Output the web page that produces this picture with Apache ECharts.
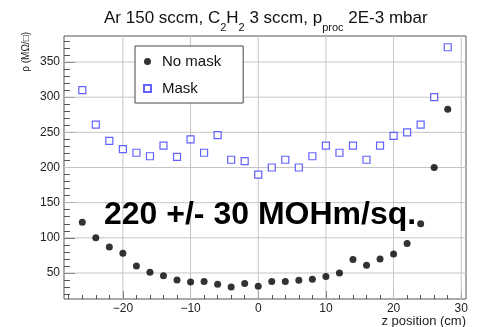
<!DOCTYPE html>
<html>
<head>
<meta charset="utf-8">
<script src="https://cdn.jsdelivr.net/npm/echarts@6/dist/echarts.min.js"></script>
<style>
  html, body { margin: 0; padding: 0; background: #fff; }
  #chart { width: 479px; height: 327px; }
</style>
</head>
<body>
<div id="chart"></div>
<script>
// z positions (cm)
const zPos = [-26, -24, -22, -20, -18, -16, -14, -12, -10, -8, -6, -4, -2, 0,
  2, 4, 6, 8, 10, 12, 14, 16, 18, 20, 22, 24, 26, 28];
// sheet resistance, MOhm/sq
const noMask = [122, 100, 87, 78, 60, 51, 46, 40, 37, 38, 34, 30, 35, 31,
  38, 38, 39.5, 41, 45, 50, 69, 61, 70, 77, 92, 120, 200, 283];
const mask = [310, 261, 238, 226, 221, 216, 231, 215, 240, 221, 246, 211, 209, 190,
  200, 211, 200, 216, 231, 221, 231, 211, 231, 245, 250, 261, 300, 371];

const xMajor = [-20, -10, 0, 10, 20, 30];
const xMinor = [-28, -26, -24, -22, -18, -16, -14, -12, -8, -6, -4, -2, 2, 4, 6, 8,
  12, 14, 16, 18, 22, 24, 26, 28];
const yMajor = [50, 100, 150, 200, 250, 300, 350];
const yMinor = [20, 30, 40, 60, 70, 80, 90, 110, 120, 130, 140, 160, 170, 180, 190,
  210, 220, 230, 240, 260, 270, 280, 290, 310, 320, 330, 340, 360, 370, 380];

const chart = echarts.init(document.getElementById('chart'));

const frame = '#555';
const font = 'Liberation Sans, Arial, sans-serif';
const xRange = { min: -28.7, max: 30.7 };
const yRange = { min: 13, max: 387 };

function pair(arr) {
  return zPos.map((z, i) => [z, arr[i]]);
}

// grid lines, one small line series per major value
function gridSeries() {
  const vertical = xMajor.map(v => [[v, yRange.min], [v, yRange.max]]);
  const horizontal = yMajor.map(v => [[xRange.min, v], [xRange.max, v]]);
  return vertical.concat(horizontal).map(d => ({
    type: 'line', data: d, silent: true, z: 1,
    showSymbol: false, symbol: 'none',
    itemStyle: { color: '#ccc' },
    lineStyle: { color: '#c4c4c4', width: 1 },
    tooltip: { show: false }
  }));
}

const option = {
  animation: false,
  title: {
    left: 99,
    top: 5,
    text: '{n|Ar 150 sccm, C}{s|2}{n|H}{s|2}{n| 3 sccm, p}{s|proc}{n| 2E-3 mbar}',
    textStyle: {
      rich: {
        n: { fontFamily: font, fontWeight: 'normal', fontSize: 17, color: '#111', lineHeight: 21, verticalAlign: 'top' },
        s: { fontFamily: font, fontWeight: 'normal', fontSize: 11, color: '#111', lineHeight: 11, verticalAlign: 'top', padding: [12, 0, 0, 0] }
      }
    }
  },
  legend: {
    orient: 'vertical',
    left: 135,
    top: 46,
    padding: [8, 22, 7, 8],
    itemGap: 12,
    itemWidth: 7,
    itemHeight: 7,
    borderColor: '#444',
    borderWidth: 1,
    backgroundColor: '#fff',
    textStyle: { fontFamily: font, fontSize: 15, color: '#111', padding: [0, 0, 0, 6] },
    data: [
      { name: 'No mask', icon: 'circle' },
      { name: 'Mask', icon: 'rect' }
    ]
  },
  grid: {
    left: 64, right: 13, top: 36, bottom: 28,
    show: true, borderColor: frame, borderWidth: 1, backgroundColor: 'transparent'
  },
  xAxis: [
    {
      type: 'value', ...xRange,
      axisLine: { show: false, onZero: false },
      axisTick: { show: true, inside: true, length: 8, customValues: xMajor, lineStyle: { color: frame } },
      axisLabel: {
        customValues: xMajor, fontFamily: font, fontSize: 12, color: '#222', margin: 4,
        formatter: v => String(v).replace('-', '\u2212')
      },
      splitLine: { show: false }
    },
    {
      type: 'value', ...xRange, position: 'bottom',
      axisLine: { show: false, onZero: false },
      axisTick: { show: true, inside: true, length: 4, customValues: xMinor, lineStyle: { color: frame } },
      axisLabel: { show: false },
      splitLine: { show: false }
    }
  ],
  yAxis: [
    {
      type: 'value', ...yRange,
      axisLine: { show: false, onZero: false },
      axisTick: { show: true, inside: true, length: 11, customValues: yMajor, lineStyle: { color: frame } },
      axisLabel: { customValues: yMajor, fontFamily: font, fontSize: 12, color: '#222', margin: 4 },
      splitLine: { show: false }
    },
    {
      type: 'value', ...yRange, position: 'left',
      axisLine: { show: false, onZero: false },
      axisTick: { show: true, inside: true, length: 6, customValues: yMinor, lineStyle: { color: frame } },
      axisLabel: { show: false },
      splitLine: { show: false }
    }
  ],
  graphic: [
    {
      type: 'text', left: 104, top: 199, z: 10,
      style: { text: '220 +/- 30 MOHm/sq.', fontFamily: font, fontWeight: 'bold', fontSize: 32, fill: '#000' }
    },
    {
      type: 'text', x: 26, y: 32, rotation: Math.PI / 2,
      style: { text: 'ρ (MΩ/□)', fontFamily: font, fontSize: 10, fill: '#222', align: 'right', verticalAlign: 'middle' }
    },
    {
      type: 'text', x: 466, y: 321,
      style: { text: 'z position (cm)', fontFamily: font, fontSize: 13, fill: '#222', align: 'right', verticalAlign: 'middle' }
    }
  ],
  series: [
    {
      name: 'No mask', type: 'scatter', symbol: 'circle', symbolSize: 7,
      itemStyle: { color: '#000' },
      z: 3,
      data: pair(noMask)
    },
    {
      name: 'Mask', type: 'scatter', symbol: 'rect', symbolSize: 7,
      itemStyle: { color: '#fff', borderColor: '#3b3bff', borderWidth: 1.2 },
      z: 3,
      data: pair(mask)
    }
  ].concat(gridSeries())
};

chart.setOption(option);
</script>
</body>
</html>
